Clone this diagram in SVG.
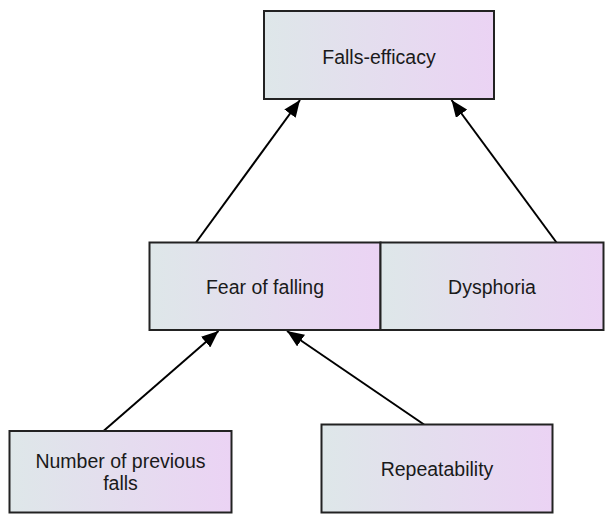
<svg xmlns="http://www.w3.org/2000/svg" width="605" height="515" viewBox="0 0 605 515">
  <defs>
    <linearGradient id="boxFill" x1="0" y1="0" x2="1" y2="0">
      <stop offset="0" stop-color="#dee7e9"/>
      <stop offset="1" stop-color="#ebd3f4"/>
    </linearGradient>
    <marker id="arrow" markerUnits="userSpaceOnUse" markerWidth="18" markerHeight="14" refX="17" refY="7" orient="auto">
      <path d="M0,0 L17,7 L0,14 Z" fill="#000"/>
    </marker>
    <style>
      .box { fill: url(#boxFill); stroke: #222; stroke-width: 2; }
      .label { font-family: "Liberation Sans", Arial, sans-serif; font-size: 19.5px; fill: #1a1a1a; text-anchor: middle; }
      .edge { stroke: #000; stroke-width: 2; fill: none; marker-end: url(#arrow); }
    </style>
  </defs>

  <g id="connectors">
    <line class="edge" x1="196" y1="242.5" x2="300" y2="100"/>
    <line class="edge" x1="556.5" y1="242.5" x2="451.5" y2="100"/>
    <line class="edge" x1="103.5" y1="431" x2="218.5" y2="331"/>
    <line class="edge" x1="424" y1="424.5" x2="287" y2="331"/>
  </g>

  <g id="falls-efficacy">
    <rect class="box" x="264" y="11" width="230" height="88"/>
    <text class="label" x="379" y="64">Falls-efficacy</text>
  </g>

  <g id="fear-of-falling">
    <rect class="box" x="149.5" y="242.5" width="231" height="87.5"/>
    <text class="label" x="265" y="294">Fear of falling</text>
  </g>

  <g id="dysphoria">
    <rect class="box" x="380.5" y="242.5" width="223" height="87.5"/>
    <text class="label" x="492" y="294">Dysphoria</text>
  </g>

  <g id="number-of-previous-falls">
    <rect class="box" x="9.5" y="431" width="222" height="81.5"/>
    <text class="label" x="120.5" y="468">Number of previous</text>
    <text class="label" x="120.5" y="490">falls</text>
  </g>

  <g id="repeatability">
    <rect class="box" x="321.5" y="424.5" width="231" height="88"/>
    <text class="label" x="437" y="475.5">Repeatability</text>
  </g>
</svg>
